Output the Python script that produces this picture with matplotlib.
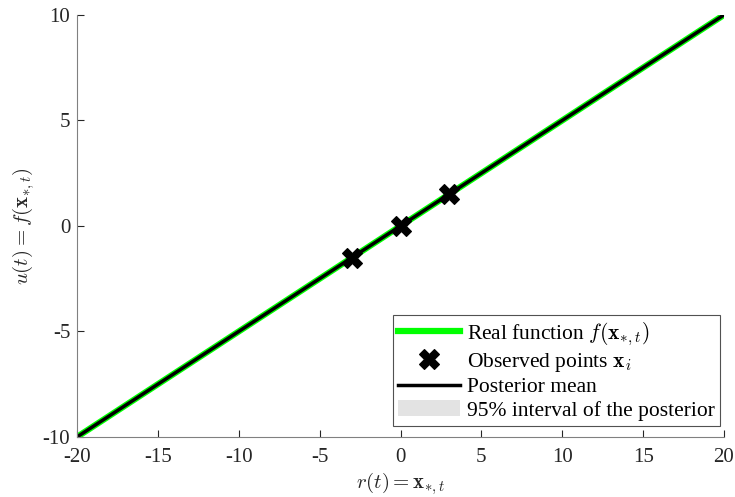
import numpy as np
import matplotlib.pyplot as plt

plt.rcParams['font.family'] = ['Liberation Serif', 'DejaVu Serif']
plt.rcParams['mathtext.fontset'] = 'cm'

# data
x_grid = [-20, -10, 0, 10, 20]
f_real = [-10, -5, 0, 5, 10]
post_mean = [-10, -5, 0, 5, 10]
post_lo = [-10.05, -5.05, -0.05, 4.95, 9.95]
post_hi = [-9.95, -4.95, 0.05, 5.05, 10.05]
x_obs = [-3, 0, 3]
y_obs = [-1.5, 0, 1.5]

fig = plt.figure(figsize=(7.35, 4.97), dpi=100)
ax = fig.add_axes([0.105, 0.121, 0.880, 0.849])

ax.fill_between(x_grid, post_lo, post_hi, color='#e3e3e3', lw=0,
                label='95% interval of the posterior')
ax.plot(x_grid, f_real, color='#00ff00', lw=4.5, label=r'Real function $f(\mathbf{x}_{*,t})$')
ax.plot(x_obs, y_obs, 'X', color='k', ms=15, mec='k', mew=0.8,
        label=r'Observed points $\mathbf{x}_i$', zorder=5)
ax.plot(x_grid, post_mean, color='k', lw=2.5, label='Posterior mean')

ax.set_xlim(-20, 20)
ax.set_ylim(-10, 10)
ax.set_xticks(np.arange(-20, 21, 5))
ax.set_yticks(np.arange(-10, 11, 5))
ax.set_xticklabels([str(v) for v in range(-20, 21, 5)])
ax.set_yticklabels([str(v) for v in range(-10, 11, 5)])
ax.tick_params(direction='in', length=5, labelsize=15, colors='#262626', width=0.8)
ax.tick_params(axis='x', pad=8)
ax.tick_params(axis='y', pad=5)
for s in ['top', 'right']:
    ax.spines[s].set_visible(False)
for s in ['left', 'bottom']:
    ax.spines[s].set_color('#808080')
    ax.spines[s].set_linewidth(0.8)

ax.set_xlabel(r'$r(t) = \mathbf{x}_{*,t}$', fontsize=15, labelpad=2, color='#262626')
ax.set_ylabel(r'$u(t) = f(\mathbf{x}_{*,t})$', fontsize=15, labelpad=4, color='#262626')

h, l = ax.get_legend_handles_labels()
order = [1, 2, 3, 0]
leg = ax.legend([h[i] for i in order], [l[i] for i in order], loc='lower right',
                bbox_to_anchor=(0.994, 0.026), borderaxespad=0,
                fontsize=15.5, frameon=True, fancybox=False, edgecolor='#262626',
                handlelength=2.9, handletextpad=0.3, borderpad=0.25,
                labelspacing=0.15)
leg.get_frame().set_linewidth(0.8)

fig.savefig('out.png', dpi=100)
